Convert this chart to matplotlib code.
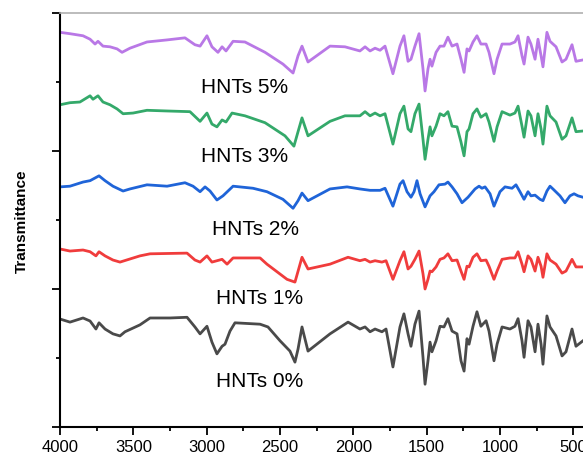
import matplotlib
matplotlib.use("Agg")
import matplotlib.pyplot as plt
from matplotlib.ticker import MultipleLocator, NullFormatter

plt.rcParams['font.family'] = ['Liberation Sans', 'DejaVu Sans']

labels = ["HNTs 0%", "HNTs 1%", "HNTs 2%", "HNTs 3%", "HNTs 5%"]
colors = ["#4a4a4a", "#f03c3c", "#1f64d8", "#34a96a", "#b978e6"]

wn_0 = [4000, 3932, 3843, 3795, 3755, 3734, 3693, 3639, 3591, 3557, 3455, 3386, 3250, 3134, 3080, 3045,
        2998, 2964, 2930, 2895, 2875, 2841, 2807, 2636, 2582, 2500, 2432, 2398, 2377, 2350, 2309, 2159,
        2036, 1955, 1920, 1886, 1852, 1805, 1777, 1730, 1682, 1655, 1627, 1607, 1580, 1552, 1525, 1511,
        1491, 1477, 1464, 1436, 1409, 1382, 1355, 1327, 1293, 1266, 1245, 1225, 1211, 1184, 1157, 1130,
        1095, 1075, 1041, 1020, 986, 932, 898, 877, 850, 836, 809, 789, 761, 741, 720, 707, 680, 659,
        618, 577, 550, 509, 482, 434]
t_0 = [1.565, 1.52, 1.58, 1.536, 1.42, 1.51, 1.42, 1.35, 1.32, 1.38, 1.48, 1.58, 1.58, 1.59, 1.45, 1.35,
       1.46, 1.23, 1.06, 1.17, 1.20, 1.39, 1.51, 1.49, 1.45, 1.25, 1.10, 0.94, 1.13, 1.45, 1.10, 1.35,
       1.52, 1.42, 1.45, 1.38, 1.42, 1.38, 1.42, 0.87, 1.45, 1.64, 1.35, 1.17, 1.49, 1.68, 1.01, 0.62,
       0.96, 1.23, 1.09, 1.25, 1.46, 1.45, 1.57, 1.39, 1.35, 0.96, 0.81, 1.28, 1.20, 1.46, 1.67, 1.46,
       1.54, 1.39, 0.96, 1.20, 1.45, 1.42, 1.46, 1.57, 1.25, 1.01, 1.54, 1.45, 1.09, 1.49, 1.20, 0.91,
       1.61, 1.45, 1.32, 1.03, 1.09, 1.42, 1.17, 1.25]

wn_1 = [4000, 3932, 3843, 3795, 3755, 3734, 3693, 3639, 3591, 3455, 3386, 3134, 3080, 3045, 2998, 2964,
        2895, 2861, 2820, 2636, 2589, 2452, 2398, 2350, 2309, 2159, 2036, 1955, 1920, 1886, 1852, 1805,
        1777, 1730, 1682, 1655, 1627, 1607, 1580, 1552, 1525, 1511, 1491, 1477, 1464, 1436, 1409, 1382,
        1355, 1327, 1293, 1266, 1245, 1225, 1211, 1184, 1157, 1130, 1095, 1075, 1041, 1020, 986, 932,
        898, 877, 850, 836, 809, 789, 761, 741, 720, 707, 680, 659, 618, 577, 550, 509, 482, 434]
t_1 = [2.58, 2.55, 2.565, 2.54, 2.48, 2.54, 2.48, 2.42, 2.39, 2.48, 2.51, 2.52, 2.42, 2.39, 2.48, 2.39,
       2.43, 2.36, 2.45, 2.45, 2.36, 2.14, 2.10, 2.46, 2.29, 2.36, 2.46, 2.41, 2.43, 2.39, 2.41, 2.39,
       2.41, 2.14, 2.41, 2.54, 2.29, 2.33, 2.43, 2.55, 2.22, 2.00, 2.14, 2.26, 2.25, 2.32, 2.43, 2.45,
       2.51, 2.41, 2.42, 2.26, 2.14, 2.33, 2.32, 2.46, 2.51, 2.41, 2.42, 2.33, 2.14, 2.26, 2.43, 2.45,
       2.45, 2.54, 2.36, 2.25, 2.48, 2.43, 2.26, 2.46, 2.33, 2.17, 2.51, 2.42, 2.36, 2.23, 2.26, 2.43,
       2.32, 2.32]

wn_2 = [4000, 3932, 3843, 3795, 3734, 3693, 3639, 3570, 3523, 3407, 3270, 3148, 3093, 3045, 3011, 2977,
        2930, 2889, 2820, 2684, 2589, 2480, 2411, 2377, 2350, 2309, 2159, 2043, 1955, 1886, 1818, 1784,
        1730, 1682, 1661, 1634, 1607, 1586, 1566, 1545, 1511, 1477, 1450, 1416, 1375, 1355, 1327, 1293,
        1259, 1218, 1170, 1143, 1123, 1102, 1068, 1041, 1000, 966, 918, 891, 864, 836, 809, 789, 761,
        727, 707, 680, 659, 639, 591, 557, 523, 495, 468, 434]
t_2 = [3.48, 3.49, 3.55, 3.57, 3.64, 3.57, 3.49, 3.42, 3.45, 3.51, 3.49, 3.54, 3.49, 3.41, 3.48, 3.42,
       3.29, 3.35, 3.49, 3.46, 3.41, 3.30, 3.17, 3.28, 3.39, 3.28, 3.45, 3.48, 3.45, 3.43, 3.43, 3.46,
       3.20, 3.52, 3.57, 3.41, 3.33, 3.41, 3.57, 3.38, 3.19, 3.35, 3.41, 3.51, 3.52, 3.55, 3.48, 3.38,
       3.25, 3.33, 3.45, 3.49, 3.46, 3.48, 3.38, 3.20, 3.41, 3.48, 3.46, 3.51, 3.41, 3.30, 3.41, 3.35, 3.36,
       3.30, 3.28, 3.42, 3.49, 3.45, 3.35, 3.25, 3.35, 3.38, 3.35, 3.33]

wn_3 = [4000, 3932, 3864, 3795, 3775, 3741, 3707, 3659, 3611, 3570, 3502, 3407, 3270, 3114, 3045, 2998,
        2964, 2930, 2895, 2868, 2827, 2739, 2602, 2466, 2405, 2377, 2350, 2309, 2159, 2057, 1955, 1920,
        1886, 1852, 1818, 1784, 1730, 1682, 1655, 1627, 1607, 1580, 1552, 1525, 1511, 1491, 1477, 1464,
        1436, 1409, 1382, 1355, 1327, 1293, 1266, 1245, 1225, 1211, 1184, 1157, 1130, 1095, 1075, 1041,
        1020, 986, 932, 898, 877, 850, 836, 809, 789, 761, 741, 720, 707, 680, 659, 618, 577, 550, 509,
        482, 434]
t_3 = [4.67, 4.70, 4.71, 4.80, 4.75, 4.80, 4.71, 4.67, 4.61, 4.54, 4.55, 4.59, 4.58, 4.57, 4.43, 4.55,
       4.39, 4.35, 4.45, 4.42, 4.55, 4.51, 4.41, 4.22, 4.07, 4.28, 4.48, 4.22, 4.43, 4.51, 4.51, 4.57,
       4.51, 4.55, 4.51, 4.54, 4.10, 4.54, 4.65, 4.32, 4.28, 4.54, 4.68, 4.17, 3.88, 4.17, 4.35, 4.22,
       4.36, 4.54, 4.51, 4.57, 4.36, 4.35, 4.13, 3.93, 4.28, 4.32, 4.54, 4.61, 4.49, 4.54, 4.42, 4.14,
       4.35, 4.57, 4.52, 4.55, 4.65, 4.36, 4.20, 4.58, 4.51, 4.22, 4.54, 4.32, 4.10, 4.65, 4.51, 4.42,
       4.17, 4.22, 4.48, 4.28, 4.29]

wn_5 = [4000, 3932, 3843, 3795, 3761, 3741, 3707, 3659, 3611, 3577, 3523, 3407, 3270, 3148, 3080, 3045,
        2998, 2964, 2923, 2895, 2868, 2820, 2739, 2602, 2480, 2411, 2377, 2350, 2309, 2159, 2057, 1955,
        1920, 1886, 1852, 1818, 1784, 1730, 1682, 1655, 1627, 1607, 1580, 1552, 1525, 1511, 1491, 1477,
        1464, 1436, 1409, 1382, 1355, 1327, 1293, 1266, 1245, 1225, 1211, 1184, 1157, 1130, 1095, 1075,
        1041, 1020, 986, 932, 898, 877, 850, 836, 809, 789, 761, 741, 720, 707, 680, 659, 618, 577, 550,
        509, 482, 434]
t_5 = [5.72, 5.70, 5.67, 5.62, 5.55, 5.59, 5.52, 5.51, 5.48, 5.43, 5.49, 5.58, 5.61, 5.64, 5.54, 5.52,
       5.67, 5.51, 5.43, 5.51, 5.45, 5.59, 5.58, 5.43, 5.26, 5.13, 5.38, 5.52, 5.29, 5.52, 5.51, 5.45,
       5.51, 5.45, 5.49, 5.46, 5.52, 5.12, 5.52, 5.67, 5.30, 5.33, 5.52, 5.70, 5.19, 4.87, 5.19, 5.33,
       5.23, 5.43, 5.52, 5.52, 5.65, 5.52, 5.55, 5.33, 5.14, 5.48, 5.45, 5.58, 5.67, 5.55, 5.55, 5.43,
       5.12, 5.33, 5.55, 5.55, 5.58, 5.67, 5.38, 5.26, 5.65, 5.55, 5.33, 5.62, 5.38, 5.22, 5.72, 5.59,
       5.51, 5.29, 5.33, 5.54, 5.30, 5.32]

label_wn = [2636, 2636, 2670, 2745, 2739]
label_t = [0.67, 1.87, 2.87, 3.93, 4.93]

series = [(wn_0, t_0), (wn_1, t_1), (wn_2, t_2), (wn_3, t_3), (wn_5, t_5)]

fig = plt.figure(figsize=(5.83, 4.56), dpi=100)
ax = fig.add_axes([60 / 583, 28 / 456, 528 / 583, 414 / 456])

for (wn, t), c in zip(series, colors):
    ax.plot(wn, t, color=c, lw=2.0, solid_joinstyle='round')

for lab, x, y in zip(labels, label_wn, label_t):
    ax.text(x, y, lab, ha='center', va='center', fontsize=15, color='black')

ax.set_xlim(4000, 400)
ax.set_ylim(0, 6)
ax.xaxis.set_major_locator(MultipleLocator(500))
ax.xaxis.set_minor_locator(MultipleLocator(250))
ax.yaxis.set_major_locator(MultipleLocator(2))
ax.yaxis.set_minor_locator(MultipleLocator(1))
ax.yaxis.set_major_formatter(NullFormatter())
ax.tick_params(axis='both', which='major', direction='out', length=6, width=1.3, labelsize=12)
ax.tick_params(axis='both', which='minor', direction='out', length=3, width=1.3)
ax.tick_params(axis='x', pad=3)

for side in ['left', 'bottom']:
    ax.spines[side].set_linewidth(1.5)
    ax.spines[side].set_color('black')
ax.spines['top'].set_color('#b0b0b0')
ax.spines['top'].set_linewidth(1.2)
ax.spines['right'].set_visible(False)

ax.set_ylabel('Transmittance', fontsize=11, fontweight='bold')
ax.yaxis.set_label_coords(-31 / 528, 0.5)

fig.savefig('out.png', dpi=100)
